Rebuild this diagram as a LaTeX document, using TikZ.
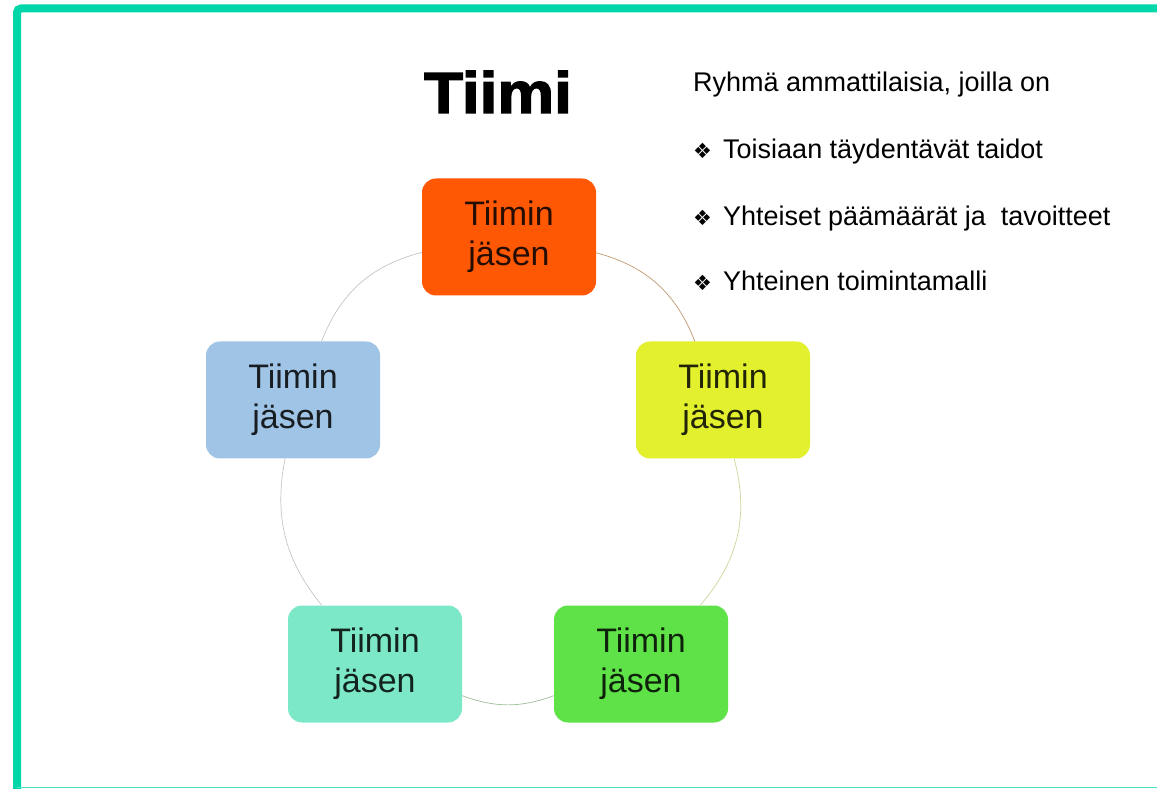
\documentclass[tikz,border=0pt]{standalone}
\usepackage{fontspec}
\setmainfont{Liberation Sans}
\newfontfamily\symfont{DejaVu Sans}
\newfontfamily\heavyfont[FakeBold=2.5,FakeStretch=1.1]{Liberation Sans Bold}
\usetikzlibrary{positioning}

\definecolor{frameteal}{RGB}{0,214,168}
\definecolor{memorange}{RGB}{255,88,5}
\definecolor{memyellow}{RGB}{226,240,45}
\definecolor{memgreen}{RGB}{95,226,72}
\definecolor{memaqua}{RGB}{125,232,200}
\definecolor{memblue}{RGB}{160,196,230}

\tikzset{
  member/.style={rounded corners=14pt, fill=#1, text=#1!15!black,
    minimum width=174pt, minimum height=117pt, align=center, inner sep=0pt,
    font=\fontsize{34}{40}\selectfont},
  ring/.style={draw=#1, line width=0.7pt},
  point/.style={anchor=base west, inner sep=0pt, font=\fontsize{27}{30}\selectfont},
}
\newcommand{\bul}{\makebox[30pt][l]{\symfont\fontsize{21}{24}\selectfont ❖}}

\begin{document}
\begin{tikzpicture}[x=1pt,y=1pt]
	\useasboundingbox (0,0) rectangle (1157,788);
	\fill[white] (0,0) rectangle (1157,788);
	% frame, open on the right
	\draw[frameteal, line width=8pt, rounded corners=4pt] (1200,779.5) -- (17,779.5) -- (17,-10);
	\draw[frameteal!70, line width=1.5pt] (17,0.75) -- (1200,0.75);
	
	\node[font=\heavyfont\fontsize{58}{66}\selectfont] (title) at (498,675) [anchor=base] {Tiimi};
	
	\node[member=memorange] (m_1) at (509,551) {Tiimin\\jäsen};
	\node[member=memyellow] (m_2) at (723,388) {Tiimin\\jäsen};
	\node[member=memgreen]  (m_3) at (641,124) {Tiimin\\jäsen};
	\node[member=memaqua]   (m_4) at (375,124) {Tiimin\\jäsen};
	\node[member=memblue]   (m_5) at (293,388) {Tiimin\\jäsen};
	
	\path
	(m_1) edge [ring=orange!40!gray!80, bend left=27] (m_2)
	(m_2) edge [ring=memyellow!50!gray!60, bend left=28] (m_3)
	(m_3) edge [ring=memgreen!40!gray!70, bend left=20] (m_4)
	(m_4) edge [ring=gray!45, bend left=25] (m_5)
	(m_5) edge [ring=gray!45, bend left=27] (m_1);
	
	\node[point] (p_0) at (693,696) {Ryhmä ammattilaisia, joilla on};
	\node[point] (p_1) [below=67pt of p_0.base west, anchor=base west] {\bul Toisiaan täydentävät taidot};
	\node[point] (p_2) [below=67pt of p_1.base west, anchor=base west] {\bul Yhteiset päämäärät ja \ tavoitteet};
	\node[point] (p_3) [below=65pt of p_2.base west, anchor=base west] {\bul Yhteinen toimintamalli};
\end{tikzpicture}
\end{document}
